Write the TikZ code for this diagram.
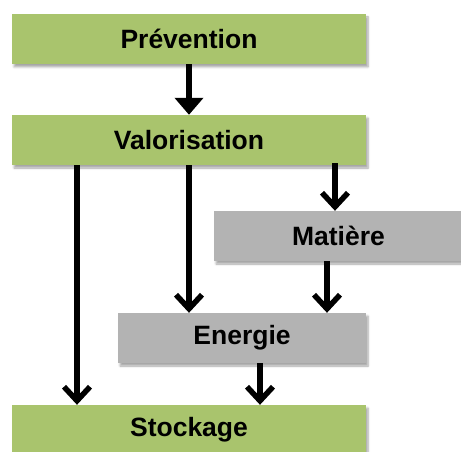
\documentclass[tikz,border=0pt]{standalone}
\usepackage{fontspec}
\setmainfont{Liberation Sans}
\usetikzlibrary{arrows.meta,shadows.blur}
\definecolor{boxgreen}{HTML}{A9C46D}
\definecolor{boxgray}{HTML}{B3B3B3}
\tikzset{
  stagebox/.style={draw=none, inner sep=0pt, minimum height=50pt,
    font=\fontsize{26.5}{30}\selectfont\bfseries,
    blur shadow={shadow xshift=2pt, shadow yshift=-3pt, shadow blur steps=6, shadow opacity=35}},
  greenbox/.style={stagebox, fill=boxgreen, minimum width=354pt},
  graybox/.style={stagebox, fill=boxgray},
  flow/.style={line width=5.5pt, -{Straight Barb[length=14pt,width=26pt,line width=5.5pt]}},
  flowfill/.style={line width=5.5pt, -{Triangle[length=17pt,width=28pt]}}
}
\begin{document}
\begin{tikzpicture}[x=1pt,y=-1pt]
\useasboundingbox (0,0) rectangle (461,452);
% the five stages
\node[greenbox] (prev) at (189,39) {Prévention};
\node[greenbox] (valo) at (189,140) {Valorisation};
\node[graybox, minimum width=249pt] (mat) at (338.5,236) {Matière};
\node[graybox, minimum width=248pt] (ener) at (242,338) {Energie};
\node[greenbox] (stock) at (189,430) {Stockage};
% connectors between the stages
\draw[flowfill] (prev.south) -- (valo.north);
\draw[flow] ([xshift=-112pt]valo.south) -- ([xshift=-112pt]stock.north);
\draw[flow] (valo.south) -- (valo.south |- ener.north);
\draw[flow] ([xshift=146pt,yshift=2pt]valo.south) -- ([xshift=146pt]valo.south |- mat.north);
\draw[flow] ([xshift=-11.5pt]mat.south) -- ([xshift=-11.5pt]mat.south |- ener.north);
\draw[flow] ([xshift=18pt]ener.south) -- ([xshift=18pt]ener.south |- stock.north);
\end{tikzpicture}
\end{document}
